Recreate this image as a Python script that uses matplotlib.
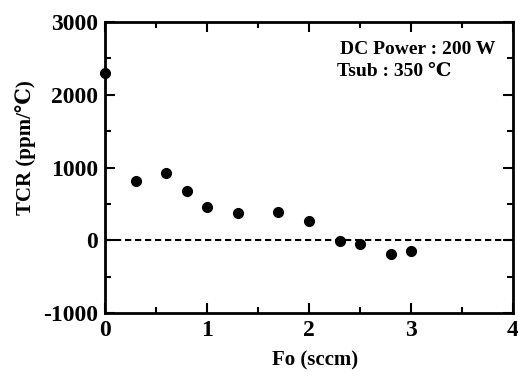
import numpy as np
import matplotlib
matplotlib.use("Agg")
import matplotlib.pyplot as plt
from matplotlib.ticker import MultipleLocator, FuncFormatter

# O2 flow (sccm) vs TCR (ppm/C)
fo = [0.0, 0.3, 0.6, 0.8, 1.0, 1.3, 1.7, 2.0, 2.3, 2.5, 2.8, 3.0]
tcr = [2300, 810, 920, 675, 455, 370, 385, 260, -15, -55, -195, -150]

plt.rcParams['font.family'] = ['Liberation Serif', 'DejaVu Serif']
plt.rcParams['font.weight'] = 'bold'

fig = plt.figure(figsize=(5.18, 3.76), dpi=100)
ax = fig.add_axes([105/518, 1-313/376, (513-105)/518, (313-22)/376])

ax.plot(fo, tcr, 'o', color='black', markersize=7, clip_on=False, zorder=3)
ax.axhline(0, color='black', linestyle=(0, (3, 1.8)), linewidth=1.5)

ax.set_xlim(0, 4)
ax.set_ylim(-1000, 3000)
ax.xaxis.set_major_locator(MultipleLocator(1))
ax.xaxis.set_minor_locator(MultipleLocator(0.5))
ax.yaxis.set_major_locator(MultipleLocator(1000))
ax.yaxis.set_minor_locator(MultipleLocator(500))
ax.xaxis.set_major_formatter(FuncFormatter(lambda v, p: '%d' % v))
ax.yaxis.set_major_formatter(FuncFormatter(lambda v, p: '%d' % v))
ax.tick_params(which='both', direction='in', top=True, right=True, width=1.5,
               labelsize=17)
ax.tick_params(which='major', length=7, pad=5)
ax.tick_params(which='minor', length=4)
for s in ax.spines.values():
    s.set_linewidth(2)

ax.set_xlabel('Fo (sccm)', fontsize=15, fontweight='bold')
ax.xaxis.set_label_coords(0.515, -0.128)
ax.set_ylabel('TCR (ppm/\u2103)', fontsize=15, fontweight='bold')
ax.yaxis.set_label_coords(-0.17, 0.57)

ax.text(0.956, 0.907, 'DC Power : 200 W', transform=ax.transAxes, ha='right',
        va='center', fontsize=14, fontweight='bold')
ax.text(0.569, 0.832, 'Tsub : 350 \u2103', transform=ax.transAxes, ha='left',
        va='center', fontsize=14, fontweight='bold')

fig.savefig('out.png', dpi=100)
